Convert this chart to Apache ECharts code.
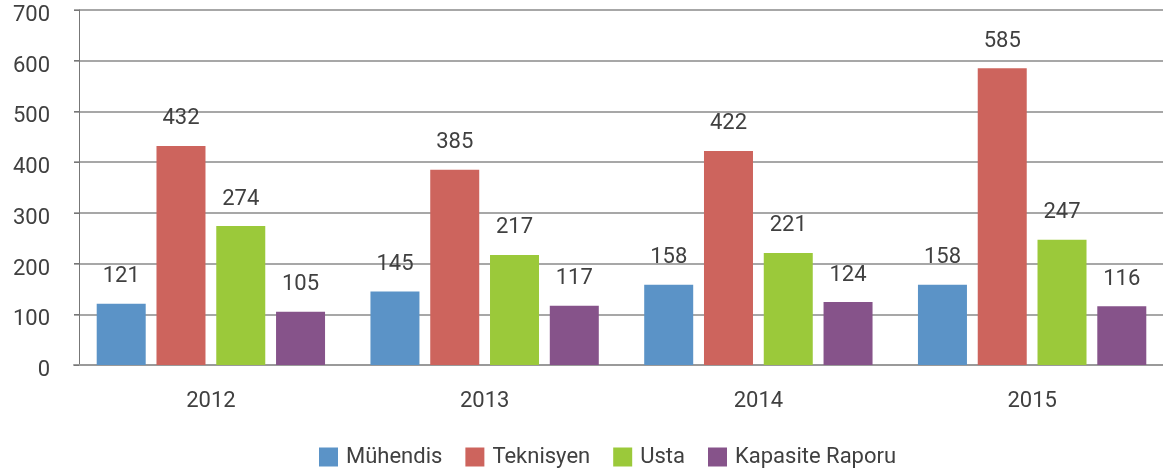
<!DOCTYPE html>
<html>
<head>
<meta charset="utf-8">
<script src="https://cdn.jsdelivr.net/npm/echarts@6/dist/echarts.min.js"></script>
<style>
  html, body { margin: 0; padding: 0; background: #fff; overflow: hidden; }
  #chart { width: 1169px; height: 475px; }
</style>
</head>
<body>
<div id="chart"></div>
<script>
var years = ["2012", "2013", "2014", "2015"];
var muhendis = [121, 145, 158, 158];
var teknisyen = [432, 385, 422, 585];
var usta = [274, 217, 221, 247];
var kapasite = [105, 117, 124, 116];
var yTicks = { min: 0, max: 700, interval: 100 };

var font = "Roboto";
var textColor = "#404040";

function makeSeries(name, data, color) {
  return {
    name: name,
    type: "bar",
    data: data,
    barWidth: 49,
    barGap: "22%",
    itemStyle: { color: color },
    label: {
      show: true,
      position: "top",
      distance: 16,
      color: textColor,
      fontSize: 22,
      fontFamily: font
    }
  };
}

// the plot runs a few pixels past the right edge of the window
var chart = echarts.init(document.getElementById("chart"));
var option = {
  animation: false,
  textStyle: { fontFamily: font },
  grid: { left: 74, right: 0, top: 10, bottom: 110 },
  legend: {
    bottom: 2,
    left: 314,
    itemWidth: 19,
    itemHeight: 19,
    itemGap: 23,
    icon: "rect",
    textStyle: {
      color: textColor,
      fontSize: 22,
      fontFamily: font,
      padding: [0, 0, 0, 3]
    },
    data: ["Mühendis", "Teknisyen", "Usta", "Kapasite Raporu"]
  },
  xAxis: {
    type: "category",
    data: years,
    axisLine: { lineStyle: { color: "#9a9a9a", width: 2 } },
    axisTick: { show: false },
    axisLabel: { color: textColor, fontSize: 22, fontFamily: font, margin: 25 }
  },
  yAxis: {
    type: "value",
    min: yTicks.min,
    max: yTicks.max,
    interval: yTicks.interval,
    offset: -5,
    axisLine: { show: true, lineStyle: { color: "#777", width: 1 } },
    axisTick: { show: true, length: 5, lineStyle: { color: "#777" } },
    splitLine: { lineStyle: { color: "#8a8a8a", width: 1.5 } },
    axisLabel: {
      margin: 29,
      formatter: "{v|{value}}",
      rich: {
        v: {
          color: textColor,
          fontSize: 22,
          fontFamily: font,
          padding: [11, 0, 0, 0]
        }
      }
    }
  },
  series: [
    makeSeries("Mühendis", muhendis, "#5b93c7"),
    makeSeries("Teknisyen", teknisyen, "#cd645d"),
    makeSeries("Usta", usta, "#9bc93a"),
    makeSeries("Kapasite Raporu", kapasite, "#86538a")
  ]
};
chart.setOption(option);
</script>
</body>
</html>
